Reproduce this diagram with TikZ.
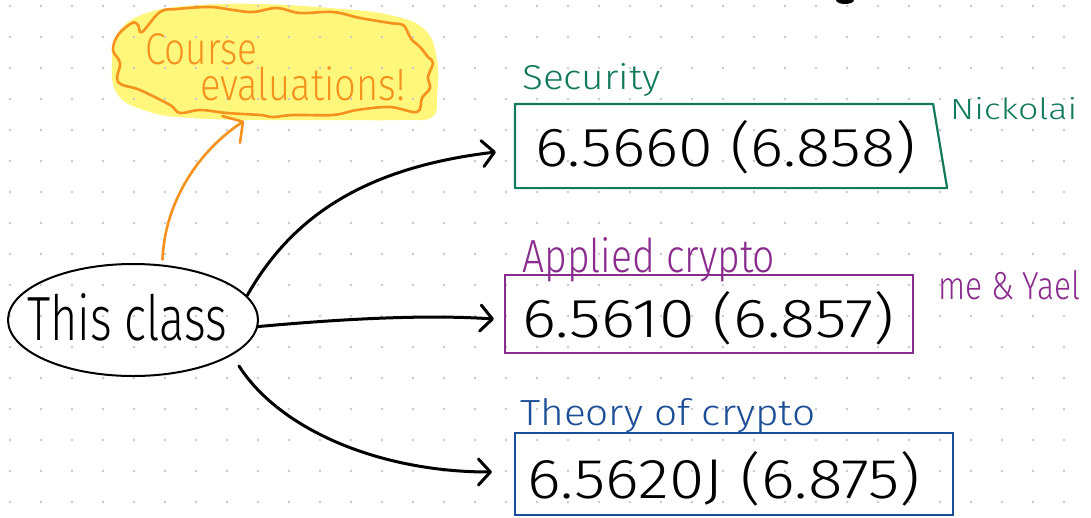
\documentclass[tikz,border=0pt]{standalone}
\usepackage{fontspec}
\setmainfont{Fira Sans Light}
\usepackage{graphicx}
\usetikzlibrary{arrows.meta,shapes.geometric}
\definecolor{secgreen}{HTML}{117A5C}
\definecolor{apppurple}{HTML}{8A2B8E}
\definecolor{thyblue}{HTML}{1B4E96}
\definecolor{evalorange}{HTML}{F5921E}
\definecolor{hilite}{HTML}{FFF67C}
\definecolor{dotc}{HTML}{C8C8C8}
\newcommand\hw[3]{\resizebox{#1}{#2}{#3}}
\begin{document}
\begin{tikzpicture}[x=1pt,y=-1pt,
  lbl/.style={inner sep=0pt,anchor=base west},
  arr/.style={line width=3pt,line cap=round,-{Straight Barb[length=12pt,width=26pt,round]}},
  oarr/.style={draw=evalorange,line width=2.6pt,line cap=round,-{Straight Barb[length=14pt,width=32pt,round]}},
  boxnode/.style={inner sep=0pt,line width=2.2pt}]
\useasboundingbox (0,0) rectangle (1091,517);
\clip (0,0) rectangle (1091,517);
\fill[white] (0,0) rectangle (1091,517);
% highlighter
\fill[hilite] plot[smooth cycle, tension=0.7] coordinates {(112,60) (120,30) (150,12) (200,5) (260,4) (330,8) (390,15) (425,30) (437,60) (437,95) (432,117) (400,120) (330,120) (260,120) (190,118) (150,112) (118,95)};
% dot grid
\foreach \i in {0,...,35}{\foreach \j in {0,...,16}{\fill[dotc] ({10+31*\i},{6+31*\j}) circle (1.3pt);}}
% cloud border
\draw[evalorange,line width=2.6pt,line join=round] plot[smooth cycle, tension=0.6] coordinates {(160,12) (177,9) (210,7) (233,10) (253,12) (277,8) (300,13) (333,12) (360,18) (390,23) (403,25) (408,33) (412,40) (420,47) (428,57) (433,63) (428,77) (430,88) (422,98) (417,112) (390,107) (357,110) (333,115) (293,115) (273,117) (260,115) (227,113) (200,110) (180,113) (170,105) (140,90) (118,82) (120,63) (113,50) (118,35) (132,23) (138,25) (142,32)};
\node[lbl,text=evalorange] (evaltxt) at (145,64) {\rlap{\hw{112pt}{31pt}{Course}}\raisebox{-36pt}{\hspace{55pt}\hw{205pt}{34pt}{evaluations!}}};
\coordinate (cloudbot) at (244,121);
% this class
\node[draw,ellipse,line width=2pt,minimum width=250pt,minimum height=112pt,inner sep=0pt] (cls) at (133,320) {};
\node[lbl] (clstxt) at (27,340) {\hw{200pt}{47pt}{This class}};
% boxes
\node[boxnode,minimum width=416pt,minimum height=82pt] (sec) at (724,146) {};
\draw[secgreen,line width=2.2pt,line join=round] (sec.north west) -- (sec.north east) -- ([xshift=14pt]sec.south east) -- (sec.south west) -- cycle;
\node[boxnode,draw=apppurple,minimum width=408pt,minimum height=78pt] (app) at (709,314) {};
\node[boxnode,draw=thyblue,minimum width=438pt,minimum height=82pt] (thy) at (734,474) {};
% labels
\node[lbl,text=secgreen] (seclbl) at (522,89) {\hw{138pt}{26pt}{Security}};
\node[lbl,text=apppurple] (applbl) at (522,272) {\hw{253pt}{35pt}{Applied crypto}};
\node[lbl,text=thyblue] (thylbl) at (520,425) {\hw{295pt}{27pt}{Theory of crypto}};
\node[lbl,text=secgreen] (nick) at (950,119) {\hw{127pt}{22pt}{Nickolai}};
\node[lbl,text=apppurple] (me) at (938,299) {\hw{142pt}{29pt}{me \& Yael}};
\node[lbl] (secnum) at (535,166) {\hw{380pt}{46pt}{6.5660 (6.858)}};
\node[lbl] (appnum) at (522,337) {\hw{372pt}{46pt}{6.5610 (6.857)}};
\node[lbl] (thynum) at (527,498) {\hw{393pt}{47pt}{6.5620J (6.875)}};
% arrows
\draw[oarr] ([yshift=5pt]cls.62) .. controls (165,200) and (200,150) .. (cloudbot);
\draw[arr] (cls.12.6) .. controls (290,220) and (360,168) .. ([xshift=-19pt,yshift=-6pt]sec.west);
\draw[arr] (cls.-3.2) .. controls (330,320) and (420,314) .. ([xshift=-10pt,yshift=-5pt]app.west);
\draw[arr] ([xshift=12pt,yshift=-8pt]cls.-22) .. controls (280,430) and (380,472) .. ([xshift=-22pt,yshift=2pt]thy.west);
% mark at top edge
\fill (845,0) ellipse (9pt and 4pt);
\end{tikzpicture}
\end{document}
